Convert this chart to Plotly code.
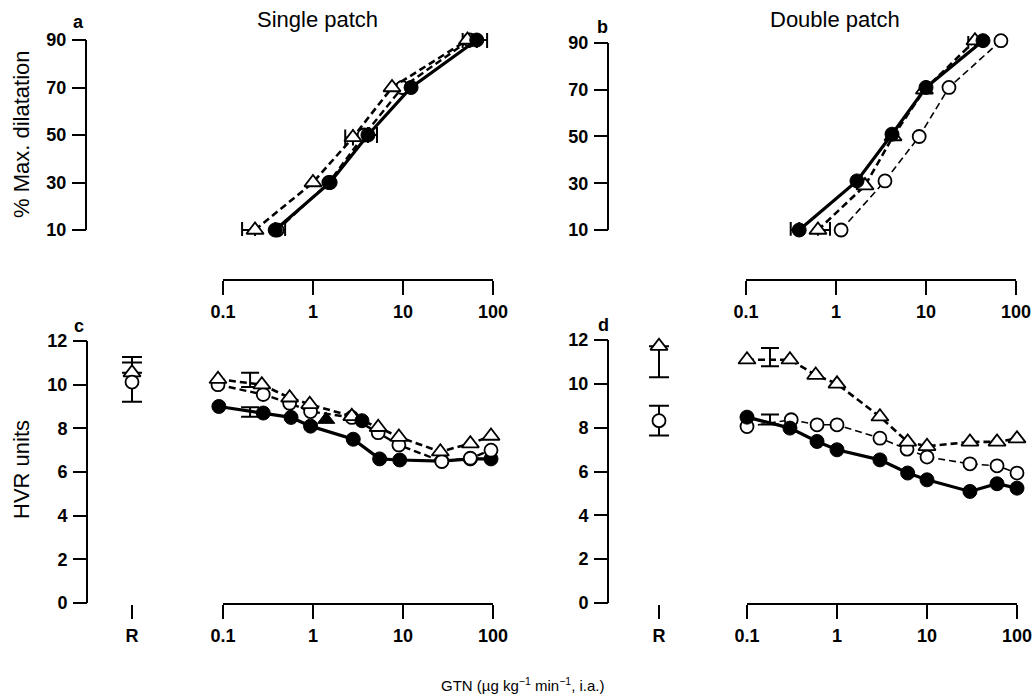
import plotly.graph_objects as go

W, H = 1036, 699

# ---------------- data ----------------
# Panel a: Single patch, % max dilatation vs GTN dose
a_levels = [10, 30, 50, 70, 90]
a_filled_x = [0.38, 1.55, 4.08, 12.3, 66]
a_open_x = [0.40, 1.5, 3.7, 9.8, 55]
a_tri_x = [0.227, 1.0, 2.78, 7.55, 52]
a_tri_y = [10, 30, 49, 70, 90]
# error bars (horizontal)
a_err_x = [0.227, 0.38, 2.78, 4.08, 55, 66]
a_err_y = [10, 10, 49, 50, 90, 90]
a_err_plus = [0, 0.11, 0, 1.06, 0, 20]
a_err_minus = [0.064, 0, 0.5, 0, 9, 0]

# Panel b: Double patch
b_filled_x = [0.39, 1.71, 4.19, 10, 43]
b_filled_y = [10, 31, 51, 71, 91]
b_open_x = [1.14, 3.5, 8.4, 18, 68]
b_open_y = [10, 31, 50, 71, 91]
b_tri_x = [0.63, 2.1, 4.3, 9.6, 35]
b_tri_y = [10, 29, 50, 70, 91]
b_err_x = [0.39, 0.63, 35]
b_err_y = [10, 10, 91]
b_err_plus = [0, 0.227, 0]
b_err_minus = [0.076, 0, 5.5]

# Panel c: Single patch, HVR units
c_filled_x = [0.09, 0.28, 0.57, 0.94, 2.8, 5.5, 9.2, 27, 56, 95]
c_filled_y = [9.0, 8.7, 8.5, 8.1, 7.5, 6.6, 6.55, 6.5, 6.6, 6.6]
c_open_x = [0.088, 0.28, 0.55, 0.94, 2.7, 5.3, 9.0, 27, 56, 95]
c_open_y = [10.0, 9.55, 9.15, 8.77, 8.5, 7.8, 7.24, 6.48, 6.63, 7.0]
c_tri_x = [0.088, 0.27, 0.55, 0.92, 2.7, 5.3, 9.0, 26, 56, 95]
c_tri_y = [10.25, 10.0, 9.4, 9.1, 8.55, 8.05, 7.6, 6.93, 7.3, 7.65]
c_extra_x = [1.4, 3.5]
c_extra_y = [8.4, 8.35]
c_extra_sym = ["triangle-up", "circle"]
c_err_x = [0.2, 0.2]
c_err_y = [10.22, 8.75]
c_err = [0.33, 0.22]
c_r_tri = 10.55
c_r_tri_up = 0.72
c_r_open = 10.12
c_r_open_err = 0.9

# Panel d: Double patch, HVR units
d_tri_x = [0.1, 0.3, 0.58, 1.0, 3.0, 6.1, 10, 30, 60, 100]
d_tri_y = [11.1, 11.1, 10.4, 10.0, 8.5, 7.35, 7.15, 7.35, 7.35, 7.5]
d_open_x = [0.1, 0.31, 0.6, 1.0, 3.0, 6.0, 10, 30, 60, 100]
d_open_y = [8.05, 8.36, 8.13, 8.13, 7.52, 7.02, 6.66, 6.35, 6.26, 5.93]
d_filled_x = [0.1, 0.3, 0.6, 1.0, 3.0, 6.1, 10, 30, 60, 100]
d_filled_y = [8.48, 7.98, 7.37, 6.99, 6.53, 5.93, 5.62, 5.09, 5.44, 5.24]
d_err_x = [0.18, 0.18]
d_err_y = [11.22, 8.37]
d_err = [0.42, 0.23]
d_r_tri = 11.72
d_r_tri_down = 1.42
d_r_open = 8.32
d_r_open_err = 0.68

r_cat = ["R"]
dose_ticks = [0.1, 1, 10, 100]
dose_labels = ["0.1", "1", "10", "100"]
pct_ticks = [10, 30, 50, 70, 90]
hvr_ticks = [0, 2, 4, 6, 8, 10, 12]

# ---------------- styling helpers ----------------
FONT = "Liberation Sans"
BLK = "black"


def fx(px):
    return px / W


def fy(py):
    return 1 - py / H


def filled(x, y, xa, ya):
    return go.Scatter(x=x, y=y, xaxis=xa, yaxis=ya, mode="lines+markers",
                      line=dict(color=BLK, width=3.2),
                      marker=dict(symbol="circle", size=14, color=BLK,
                                  line=dict(color=BLK, width=1)),
                      cliponaxis=False, showlegend=False)


def opencirc(x, y, xa, ya, lw=2.4):
    return go.Scatter(x=x, y=y, xaxis=xa, yaxis=ya, mode="lines+markers",
                      line=dict(color=BLK, width=lw, dash="7px,4px"),
                      marker=dict(symbol="circle", size=13, color="white",
                                  line=dict(color=BLK, width=1.8)),
                      cliponaxis=False, showlegend=False)


def tri(x, y, xa, ya, lw=2.6):
    return go.Scatter(x=x, y=y, xaxis=xa, yaxis=ya, mode="lines+markers",
                      line=dict(color=BLK, width=lw, dash="7px,4px"),
                      marker=dict(symbol="triangle-up", size=15, color="white",
                                  line=dict(color=BLK, width=1.8)),
                      cliponaxis=False, showlegend=False)


def errx(x, y, plus, minus, xa, ya):
    return go.Scatter(x=x, y=y, xaxis=xa, yaxis=ya, mode="markers",
                      marker=dict(size=1, color="rgba(0,0,0,0)"),
                      error_x=dict(type="data", symmetric=False, array=plus,
                                   arrayminus=minus, color=BLK, thickness=2, width=8),
                      cliponaxis=False, showlegend=False, hoverinfo="skip")


def erry(x, y, plus, minus, xa, ya, width=9):
    return go.Scatter(x=x, y=y, xaxis=xa, yaxis=ya, mode="markers",
                      marker=dict(size=1, color="rgba(0,0,0,0)"),
                      error_y=dict(type="data", symmetric=False, array=plus,
                                   arrayminus=minus, color=BLK, thickness=2, width=width),
                      cliponaxis=False, showlegend=False, hoverinfo="skip")


def open_marker(x, y, xa, ya, symbol, size):
    return go.Scatter(x=x, y=y, xaxis=xa, yaxis=ya, mode="markers",
                      marker=dict(symbol=symbol, size=size, color="white",
                                  line=dict(color=BLK, width=1.8)),
                      cliponaxis=False, showlegend=False)


fig = go.Figure()

# ---- panel a (x, y)
fig.add_trace(errx(a_err_x, a_err_y, a_err_plus, a_err_minus, "x", "y"))
fig.add_trace(opencirc(a_open_x, a_levels, "x", "y"))
fig.add_trace(tri(a_tri_x, a_tri_y, "x", "y"))
fig.add_trace(filled(a_filled_x, a_levels, "x", "y"))

# ---- panel b (x2, y2)
fig.add_trace(errx(b_err_x, b_err_y, b_err_plus, b_err_minus, "x2", "y2"))
fig.add_trace(opencirc(b_open_x, b_open_y, "x2", "y2", lw=1.6))
fig.add_trace(tri(b_tri_x, b_tri_y, "x2", "y2"))
fig.add_trace(filled(b_filled_x, b_filled_y, "x2", "y2"))

# ---- panel c (x3, y3) + R column (x5, y3)
fig.add_trace(erry(c_err_x, c_err_y, c_err, c_err, "x3", "y3"))
fig.add_trace(filled(c_filled_x, c_filled_y, "x3", "y3"))
fig.add_trace(opencirc(c_open_x, c_open_y, "x3", "y3"))
fig.add_trace(tri(c_tri_x, c_tri_y, "x3", "y3"))
fig.add_trace(go.Scatter(x=c_extra_x, y=c_extra_y, xaxis="x3", yaxis="y3", mode="markers",
                         opacity=1,
                         marker=dict(symbol=c_extra_sym, size=[15, 14], color=BLK, opacity=1,
                                     line=dict(color=BLK, width=1)),
                         cliponaxis=False, showlegend=False))
fig.add_trace(erry(r_cat, [c_r_tri], [c_r_tri_up], [0], "x5", "y3", width=10))
fig.add_trace(erry(r_cat, [c_r_open], [c_r_open_err], [c_r_open_err], "x5", "y3", width=10))
fig.add_trace(open_marker(r_cat, [c_r_tri], "x5", "y3", "triangle-up", 15))
fig.add_trace(open_marker(r_cat, [c_r_open], "x5", "y3", "circle", 13))

# ---- panel d (x4, y4) + R column (x6, y4)
fig.add_trace(erry(d_err_x, d_err_y, d_err, d_err, "x4", "y4"))
fig.add_trace(opencirc(d_open_x, d_open_y, "x4", "y4", lw=1.6))
fig.add_trace(tri(d_tri_x, d_tri_y, "x4", "y4"))
fig.add_trace(filled(d_filled_x, d_filled_y, "x4", "y4"))
fig.add_trace(erry(r_cat, [d_r_tri], [0], [d_r_tri_down], "x6", "y4", width=10))
fig.add_trace(erry(r_cat, [d_r_open], [d_r_open_err], [d_r_open_err], "x6", "y4", width=10))
fig.add_trace(open_marker(r_cat, [d_r_tri], "x6", "y4", "triangle-up", 15))
fig.add_trace(open_marker(r_cat, [d_r_open], "x6", "y4", "circle", 13))

tickfont = dict(family=FONT, size=18, color=BLK, weight="bold")

# log axes: 90 px per decade, slightly padded range so edge points stay visible
LOG_LO, LOG_HI = -1.1, 2.06
PX_DEC = 90.0


def xlog(px_at_01, ypos):
    x0 = px_at_01 + (LOG_LO + 1) * PX_DEC
    x1 = px_at_01 + (LOG_HI + 1) * PX_DEC
    return dict(type="log", range=[LOG_LO, LOG_HI], domain=[fx(x0), fx(x1)], anchor="free",
                position=fy(ypos), showline=False,
                ticks="outside", ticklen=14, tickwidth=2, tickcolor=BLK,
                tickvals=dose_ticks, ticktext=dose_labels, tickfont=tickfont,
                showgrid=False, zeroline=False, ticklabelstandoff=1)


def ylin(t0, t1, py_t0, py_t1, pad_lo, pad_hi, xpos, ticks):
    ppu = (py_t0 - py_t1) / (t1 - t0)
    lo, hi = t0 - pad_lo, t1 + pad_hi
    y_bot = py_t0 + pad_lo * ppu
    y_top = py_t1 - pad_hi * ppu
    return dict(range=[lo, hi], domain=[fy(y_bot), fy(y_top)], anchor="free",
                position=fx(xpos), showline=False,
                ticks="outside", ticklen=14, tickwidth=2, tickcolor=BLK,
                tickvals=ticks, tickfont=tickfont, showgrid=False, zeroline=False,
                ticklabelstandoff=2)


def xr(x0, x1, ypos):
    return dict(type="category", range=[-1, 1], domain=[fx(x0), fx(x1)], anchor="free",
                position=fy(ypos), showline=False, ticks="outside", ticklen=14,
                tickwidth=2, tickcolor=BLK, tickfont=tickfont, showgrid=False,
                zeroline=False, ticklabelstandoff=1)


# axis lines spanning only the tick range (range-frame style)
def xline(xref, ticks, ypos):
    return dict(type="line", xref=xref, yref="paper", x0=ticks[0], x1=ticks[-1],
                y0=fy(ypos), y1=fy(ypos), line=dict(color=BLK, width=2))


def yline(yref, ticks, xpos):
    return dict(type="line", xref="paper", yref=yref, x0=fx(xpos), x1=fx(xpos),
                y0=ticks[0], y1=ticks[-1], line=dict(color=BLK, width=2))


shapes = [
    xline("x", dose_ticks, 280), xline("x2", dose_ticks, 280),
    xline("x3", dose_ticks, 604), xline("x4", dose_ticks, 604),
    yline("y", pct_ticks, 86), yline("y2", pct_ticks, 608),
    yline("y3", hvr_ticks, 87), yline("y4", hvr_ticks, 608),
]

annos = [
    dict(text="Single patch", x=fx(317), y=fy(19), font=dict(family=FONT, size=22)),
    dict(text="Double patch", x=fx(835), y=fy(19), font=dict(family=FONT, size=22)),
    dict(text="a", x=fx(78), y=fy(22), font=dict(family=FONT, size=18, weight="bold")),
    dict(text="b", x=fx(602), y=fy(27), font=dict(family=FONT, size=18, weight="bold")),
    dict(text="c", x=fx(79), y=fy(326), font=dict(family=FONT, size=18, weight="bold")),
    dict(text="d", x=fx(603), y=fy(325), font=dict(family=FONT, size=18, weight="bold")),
    dict(text="% Max. dilatation", x=fx(22), y=fy(134), textangle=-90,
         font=dict(family=FONT, size=22)),
    dict(text="HVR units", x=fx(21), y=fy(470), textangle=-90,
         font=dict(family=FONT, size=22)),
    dict(text="GTN (µg kg<sup>−1</sup> min<sup>−1</sup>, i.a.)", x=fx(522), y=fy(684),
         font=dict(family=FONT, size=15)),
]
for an in annos:
    an.update(xref="paper", yref="paper", showarrow=False, xanchor="center", yanchor="middle")

fig.update_layout(
    width=W, height=H, autosize=False,
    margin=dict(l=0, r=0, t=0, b=0, pad=0, autoexpand=False),
    paper_bgcolor="white", plot_bgcolor="white", showlegend=False,
    font=dict(family=FONT, color=BLK),
    xaxis=xlog(223, 280),
    yaxis=ylin(10, 90, 230, 40, 2.5, 3, 86, pct_ticks),
    xaxis2=xlog(746, 280),
    yaxis2=ylin(10, 90, 230, 43, 2.5, 3, 608, pct_ticks),
    xaxis3=xlog(223, 604),
    yaxis3=ylin(0, 12, 603, 341, 0.3, 0.4, 87, hvr_ticks),
    xaxis4=xlog(747, 604),
    yaxis4=ylin(0, 12, 603, 340, 0.3, 0.4, 608, hvr_ticks),
    xaxis5=xr(110, 154, 604),
    xaxis6=xr(637, 681, 604),
    shapes=shapes,
    annotations=annos,
)

# remove the default page margin/scrollbars so the 1036x699 figure fills the window exactly
PAGE_JS = ("document.documentElement.style.overflow='hidden';"
           "document.body.style.margin='0';document.body.style.overflow='hidden';")

fig.write_html("out.html", config={"responsive": False, "displayModeBar": False},
               post_script=PAGE_JS)
